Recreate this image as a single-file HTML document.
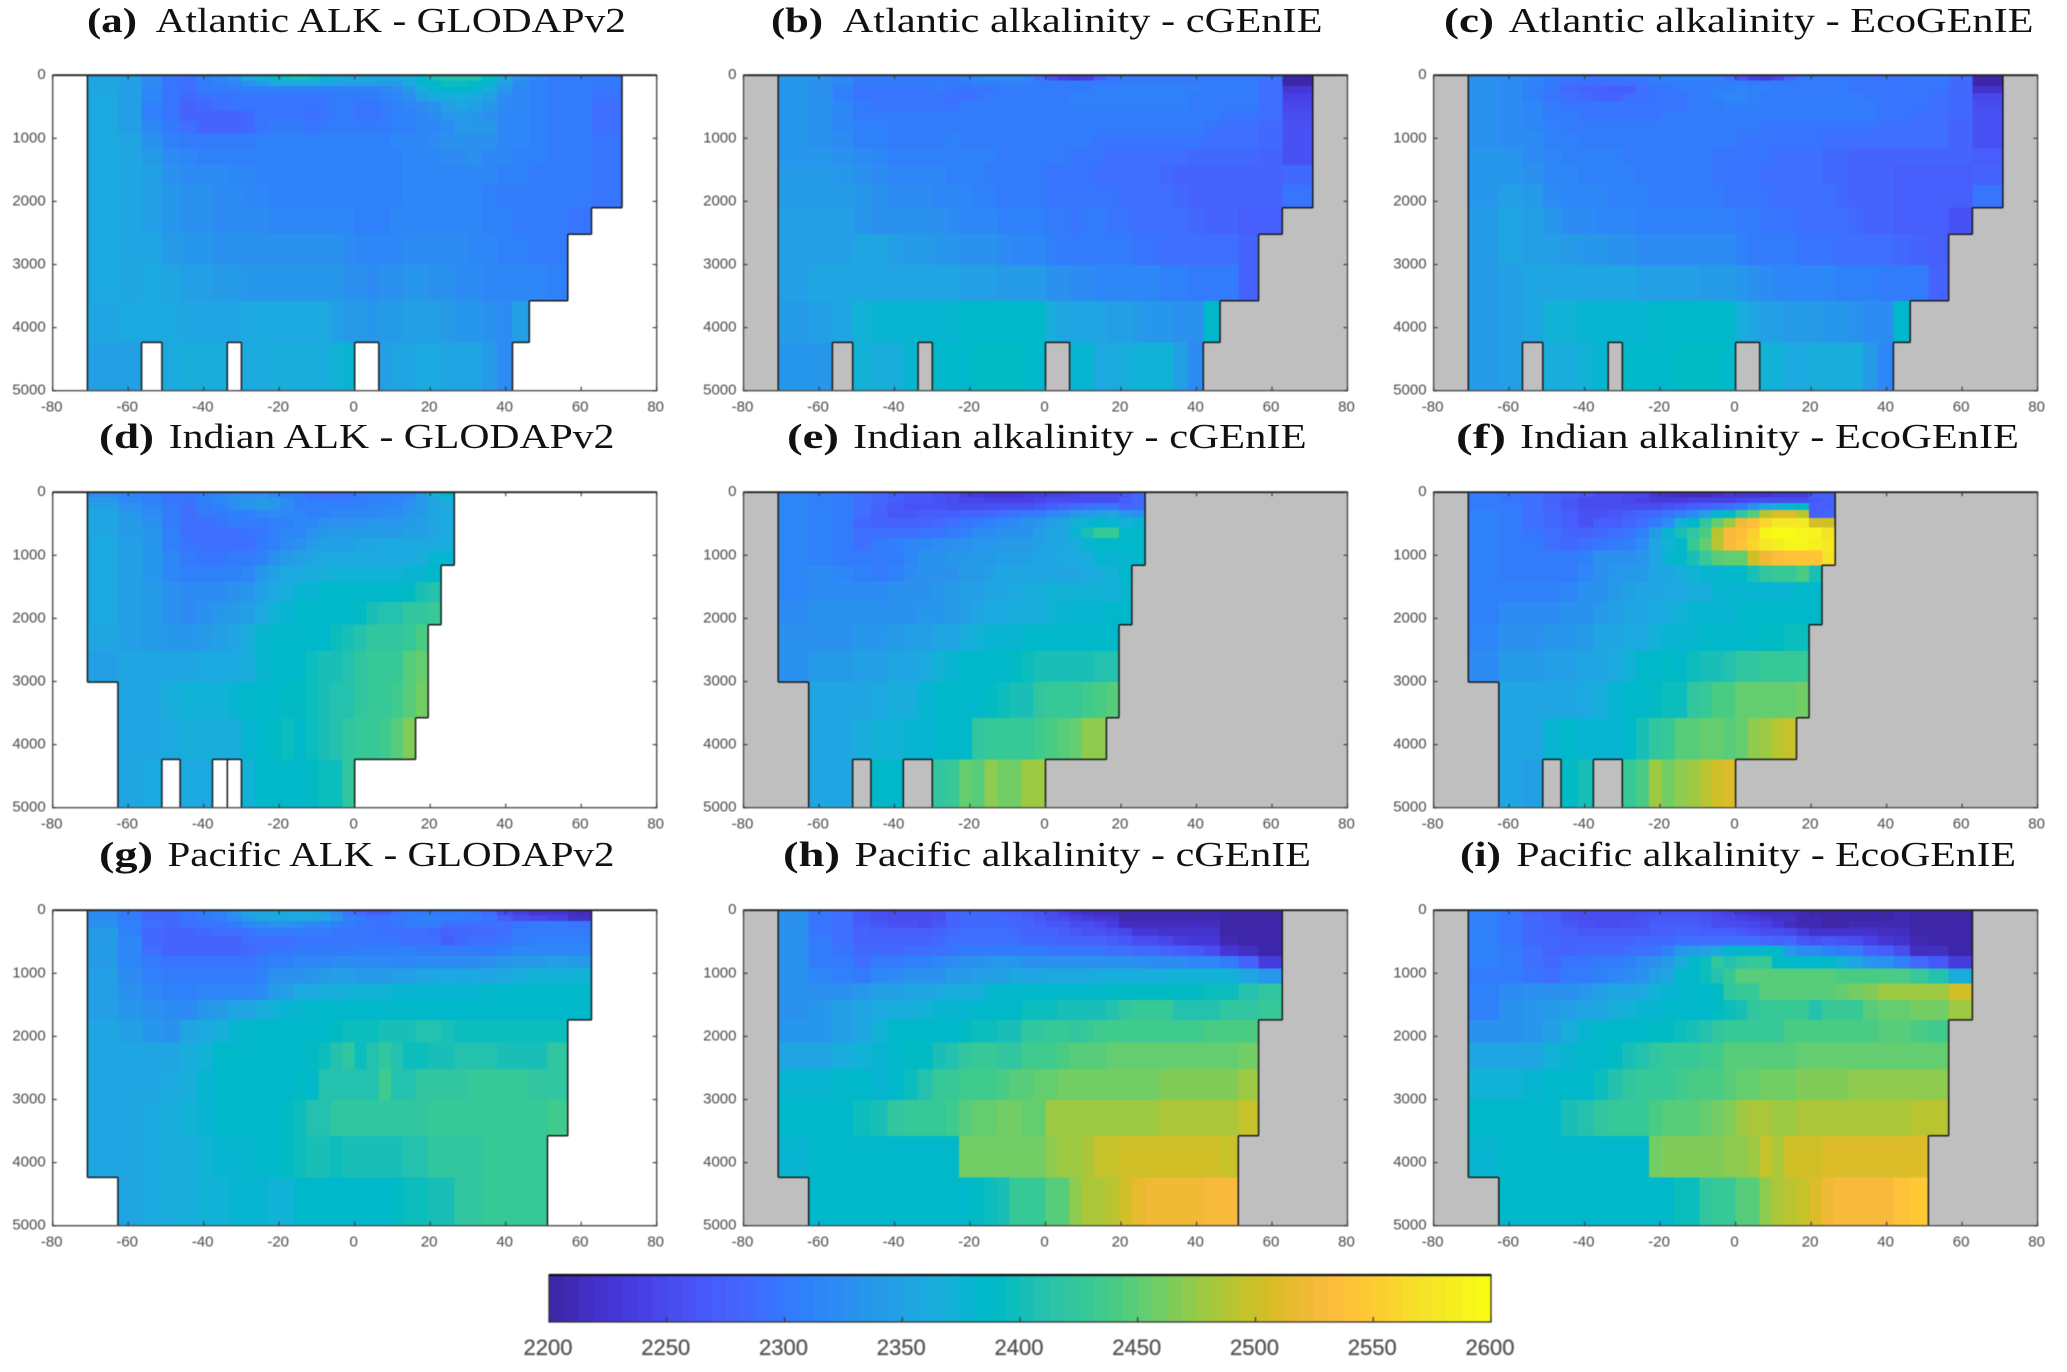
<!DOCTYPE html>
<html lang="en">
<head>
<meta charset="utf-8">
<title>Alkalinity sections: GLODAPv2, cGEnIE and EcoGEnIE</title>
<style>
html,body{margin:0;padding:0;background:#fff;width:2067px;height:1372px;overflow:hidden}
svg{display:block}
.tick-text{font-family:"Liberation Sans",sans-serif;font-size:15px;fill:#4a4a4a}
.cbar-text{font-family:"Liberation Sans",sans-serif;font-size:22px;fill:#555;stroke:#555;stroke-width:.3px}
.title-text{font-family:"Liberation Serif",serif;font-size:35px;fill:#111}
.soft{filter:blur(.6px)}
</style>
</head>
<body>
<svg id="figure" xmlns="http://www.w3.org/2000/svg" width="2067" height="1372" viewBox="0 0 2067 1372"></svg>
<script>
const latEdges=[-70.81,-62.73,-56.44,-51.06,-46.24,-41.81,-37.67,-33.75,-30,-26.39,-22.89,-19.47,-16.13,-12.84,-9.59,-6.38,-3.18,0,3.18,6.38,9.59,12.84,16.13,19.47,22.89,26.39,30,33.75,37.67,41.81,46.24,51.06,56.44,62.73,70.81];
const depthEdges=[0,81,175,284,410,558,729,927,1158,1426,1738,2100,2520,3009,3576,4235,5000];
const xTickLabels=[-80,-60,-40,-20,0,20,40,60,80];
const yTickLabels=[0,1000,2000,3000,4000,5000];
const colorbarTicks=[2200,2250,2300,2350,2400,2450,2500,2550,2600];

const atlanticFirstCol=[0,0,0,0,0,0,0,0,0,0,0,0,0,0,0,0];
const atlanticLastCol=[33,33,33,33,33,33,33,33,33,33,33,32,31,31,29,28];
const atlanticHoles=[2,7,17,18];
const indianFirstCol=[0,0,0,0,0,0,0,0,0,0,0,0,0,1,1,1];
const indianLastCol=[24,24,24,24,24,24,24,24,23,23,23,22,22,22,21,16];
const indianHoles=[3,6,7];
const pacificFirstCol=[0,0,0,0,0,0,0,0,0,0,0,0,0,0,0,1];
const pacificLastCol=[32,32,32,32,32,32,32,32,32,32,31,31,31,31,30,30];
const pacificHoles=[];

const atlanticGlodap=[
[2353,2348,2320,2297,2292,2307,2315,2330,2357,2372,2385,2395,2400,2395,2381,2372,2360,2357,2357,2353,2353,2363,2385,2400,2408,2410,2408,2390,2357,2325,2313,2303,2300,2300],
[2353,2348,2320,2297,2292,2303,2310,2315,2325,2342,2357,2360,2360,2357,2353,2353,2348,2348,2348,2342,2342,2357,2377,2387,2397,2397,2390,2381,2348,2320,2310,2303,2300,2300],
[2353,2348,2315,2297,2292,2300,2303,2303,2307,2307,2310,2310,2310,2310,2307,2310,2310,2310,2310,2313,2320,2342,2363,2377,2381,2385,2381,2367,2335,2315,2310,2303,2300,2297],
[2357,2348,2313,2297,2283,2292,2297,2297,2297,2297,2297,2297,2297,2297,2297,2300,2300,2300,2303,2307,2313,2320,2348,2357,2363,2363,2357,2348,2320,2313,2310,2303,2300,2297],
[2357,2348,2310,2297,2278,2283,2292,2297,2297,2297,2297,2297,2297,2297,2297,2300,2300,2297,2297,2300,2307,2315,2320,2325,2348,2353,2348,2335,2320,2313,2307,2303,2300,2292],
[2357,2348,2310,2297,2278,2278,2278,2278,2283,2297,2297,2297,2297,2288,2297,2300,2300,2297,2297,2300,2307,2310,2315,2320,2335,2342,2335,2325,2315,2313,2307,2303,2300,2292],
[2357,2348,2313,2300,2288,2278,2278,2278,2283,2297,2300,2300,2300,2297,2300,2303,2303,2303,2303,2303,2307,2310,2313,2315,2320,2335,2335,2335,2315,2313,2307,2303,2300,2292],
[2357,2353,2325,2310,2303,2300,2300,2300,2303,2307,2307,2307,2307,2307,2307,2307,2307,2307,2307,2310,2313,2313,2315,2320,2325,2325,2325,2325,2315,2313,2307,2303,2300,2297],
[2357,2353,2342,2320,2313,2310,2310,2307,2307,2307,2307,2307,2307,2307,2307,2307,2307,2307,2307,2310,2310,2313,2313,2315,2320,2320,2325,2315,2313,2310,2307,2303,2300,2297],
[2357,2353,2348,2325,2320,2320,2320,2315,2313,2310,2310,2310,2310,2310,2310,2310,2310,2307,2307,2307,2310,2313,2313,2315,2315,2315,2313,2313,2310,2307,2303,2300,2300,2297],
[2357,2353,2348,2335,2325,2325,2320,2320,2315,2315,2310,2310,2310,2310,2310,2310,2310,2310,2310,2310,2310,2313,2313,2313,2313,2313,2313,2310,2303,2303,2303,2300,2300,2297],
[2357,2353,2348,2335,2325,2325,2320,2320,2320,2320,2315,2315,2315,2315,2315,2315,2315,2310,2310,2310,2313,2315,2315,2315,2315,2315,2313,2310,2310,2303,2303,2300,2297],
[2357,2353,2353,2342,2335,2335,2325,2325,2325,2325,2325,2325,2325,2325,2325,2325,2320,2315,2315,2315,2315,2320,2320,2320,2320,2320,2315,2313,2310,2307,2303,2300],
[2357,2353,2357,2353,2348,2348,2342,2342,2335,2335,2335,2335,2335,2335,2335,2335,2325,2325,2320,2325,2325,2335,2335,2325,2325,2320,2320,2315,2315,2315,2313,2307],
[2353,2357,2360,2357,2353,2353,2353,2353,2357,2357,2357,2357,2357,2357,2357,2348,2342,2342,2335,2342,2342,2348,2348,2348,2342,2335,2335,2325,2320,2348],
[2348,2348,0,2357,2367,2367,2367,0,2357,2360,2363,2363,2363,2363,2367,2372,2377,0,0,2348,2353,2353,2357,2357,2353,2353,2353,2342,2320]
];
const atlanticCgenie=[
[2335,2325,2313,2300,2300,2300,2300,2303,2303,2303,2307,2313,2320,2320,2320,2313,2292,2262,2240,2235,2240,2270,2297,2303,2303,2300,2300,2303,2303,2303,2303,2303,2297,2205],
[2335,2325,2313,2300,2300,2300,2300,2300,2303,2303,2303,2307,2307,2307,2307,2307,2303,2303,2300,2300,2300,2303,2303,2303,2303,2300,2300,2303,2303,2303,2303,2303,2292,2205],
[2335,2325,2310,2297,2297,2297,2297,2297,2300,2297,2297,2297,2297,2300,2303,2303,2303,2303,2303,2303,2303,2307,2307,2307,2307,2307,2307,2307,2307,2303,2303,2303,2292,2225],
[2335,2325,2310,2297,2297,2297,2297,2297,2297,2292,2292,2297,2300,2303,2303,2303,2303,2303,2303,2307,2307,2307,2307,2307,2307,2307,2307,2307,2303,2303,2303,2300,2292,2240],
[2335,2325,2315,2300,2297,2297,2297,2297,2297,2297,2300,2300,2300,2303,2303,2303,2303,2303,2303,2307,2307,2307,2307,2307,2307,2307,2307,2307,2303,2303,2300,2300,2288,2245],
[2335,2325,2315,2303,2300,2300,2300,2300,2300,2300,2303,2303,2303,2303,2303,2303,2303,2303,2303,2303,2303,2303,2303,2303,2303,2303,2303,2303,2303,2300,2297,2297,2288,2250],
[2335,2325,2315,2307,2307,2303,2303,2303,2303,2303,2303,2303,2303,2303,2303,2300,2300,2300,2300,2303,2300,2300,2300,2300,2300,2303,2300,2300,2300,2297,2292,2292,2283,2262],
[2335,2325,2320,2310,2307,2303,2303,2303,2303,2310,2303,2303,2303,2303,2303,2303,2303,2303,2303,2300,2300,2297,2297,2297,2297,2297,2297,2297,2297,2292,2292,2288,2283,2262],
[2335,2335,2330,2320,2313,2310,2307,2307,2307,2307,2307,2307,2307,2303,2303,2303,2300,2300,2300,2297,2297,2297,2292,2292,2292,2292,2288,2288,2283,2283,2283,2283,2278,2262],
[2340,2340,2335,2325,2320,2315,2313,2313,2313,2310,2310,2307,2303,2303,2300,2300,2300,2297,2297,2297,2297,2292,2292,2288,2288,2288,2283,2278,2278,2278,2278,2278,2278,2283],
[2340,2340,2340,2335,2325,2320,2320,2320,2315,2313,2313,2310,2307,2303,2303,2300,2300,2297,2297,2297,2297,2297,2297,2292,2292,2288,2288,2283,2278,2278,2278,2278,2278,2297],
[2345,2345,2345,2335,2330,2330,2330,2325,2325,2320,2315,2313,2313,2310,2310,2307,2307,2303,2303,2297,2300,2300,2297,2297,2292,2292,2288,2288,2283,2278,2278,2270,2270],
[2345,2345,2345,2355,2350,2345,2340,2340,2335,2335,2330,2325,2325,2320,2315,2315,2315,2310,2303,2303,2303,2300,2300,2300,2297,2297,2292,2292,2292,2288,2288,2278],
[2345,2350,2350,2355,2355,2355,2350,2350,2350,2350,2345,2345,2345,2340,2340,2340,2340,2330,2325,2320,2320,2315,2315,2313,2313,2313,2310,2307,2303,2303,2303,2278],
[2340,2345,2350,2370,2375,2375,2380,2380,2380,2380,2385,2385,2385,2385,2385,2385,2385,2365,2355,2350,2355,2355,2345,2345,2340,2335,2335,2330,2325,2387],
[2335,2335,0,2370,2365,2365,2375,0,2387,2387,2387,2390,2390,2390,2390,2387,2385,0,0,2380,2380,2360,2360,2365,2370,2370,2370,2345,2320]
];
const atlanticEcogenie=[
[2330,2320,2313,2303,2297,2297,2297,2297,2300,2303,2307,2310,2315,2315,2313,2307,2292,2262,2240,2235,2245,2278,2297,2300,2300,2297,2297,2297,2297,2297,2300,2300,2288,2205],
[2330,2320,2310,2300,2292,2288,2288,2288,2292,2297,2300,2300,2303,2303,2303,2303,2307,2307,2303,2303,2300,2303,2303,2303,2303,2300,2297,2297,2297,2297,2297,2297,2283,2205],
[2330,2320,2310,2297,2283,2278,2278,2270,2270,2292,2297,2297,2300,2300,2303,2307,2310,2313,2307,2307,2303,2303,2303,2303,2303,2300,2297,2297,2297,2297,2297,2297,2283,2220],
[2330,2320,2310,2297,2288,2283,2278,2278,2288,2292,2297,2297,2297,2300,2303,2310,2313,2313,2307,2303,2303,2303,2303,2303,2303,2303,2300,2297,2297,2297,2297,2292,2283,2245],
[2330,2320,2315,2300,2297,2297,2297,2297,2297,2297,2297,2297,2297,2300,2303,2303,2307,2307,2307,2303,2303,2303,2303,2303,2303,2303,2303,2300,2297,2297,2297,2292,2283,2250],
[2330,2320,2315,2303,2300,2297,2297,2297,2297,2297,2297,2300,2300,2300,2303,2303,2303,2303,2303,2300,2300,2300,2300,2300,2300,2300,2300,2300,2297,2297,2292,2288,2283,2262],
[2330,2320,2315,2307,2303,2300,2300,2300,2300,2300,2300,2300,2300,2300,2300,2300,2300,2300,2300,2297,2297,2297,2297,2297,2297,2297,2297,2297,2292,2292,2288,2288,2278,2262],
[2330,2320,2320,2310,2307,2303,2303,2303,2303,2303,2303,2303,2303,2300,2300,2300,2300,2297,2297,2297,2297,2297,2297,2297,2292,2292,2292,2292,2292,2288,2288,2288,2278,2262],
[2335,2335,2320,2313,2307,2307,2307,2307,2303,2303,2303,2303,2300,2300,2300,2297,2297,2297,2297,2297,2292,2292,2292,2288,2283,2283,2278,2278,2278,2278,2278,2278,2278,2270],
[2335,2335,2330,2315,2313,2310,2310,2307,2307,2303,2303,2303,2300,2300,2300,2297,2297,2297,2297,2292,2292,2288,2288,2288,2283,2283,2278,2278,2278,2270,2270,2270,2270,2278],
[2335,2345,2340,2320,2315,2313,2313,2310,2310,2307,2303,2303,2300,2300,2300,2300,2297,2297,2297,2297,2292,2292,2292,2288,2288,2283,2278,2278,2278,2270,2270,2270,2270,2297],
[2340,2350,2345,2335,2320,2320,2315,2315,2313,2310,2310,2307,2307,2307,2307,2307,2307,2300,2300,2297,2297,2297,2292,2292,2288,2288,2283,2278,2278,2270,2270,2270,2262],
[2340,2350,2345,2345,2340,2335,2335,2325,2325,2320,2320,2320,2320,2320,2320,2320,2320,2310,2303,2300,2300,2300,2297,2297,2297,2292,2292,2292,2288,2283,2278,2270],
[2340,2345,2350,2355,2355,2355,2355,2350,2350,2345,2345,2345,2345,2345,2340,2340,2340,2335,2330,2320,2315,2315,2315,2313,2313,2310,2310,2307,2303,2303,2303,2278],
[2340,2345,2350,2370,2370,2375,2375,2375,2380,2380,2385,2385,2385,2385,2385,2385,2385,2365,2355,2345,2345,2340,2340,2340,2335,2335,2325,2320,2320,2387],
[2340,2345,0,2365,2365,2370,2375,0,2385,2385,2387,2387,2390,2390,2390,2390,2387,0,0,2370,2370,2360,2360,2365,2365,2365,2365,2340,2313]
];
const indianGlodap=[
[2320,2313,2307,2297,2297,2307,2313,2320,2325,2325,2313,2307,2300,2292,2292,2292,2297,2300,2307,2310,2310,2315,2335,2363,2385],
[2342,2315,2310,2297,2297,2307,2315,2325,2335,2342,2335,2320,2307,2300,2300,2303,2303,2303,2307,2310,2313,2320,2335,2353,2363],
[2348,2325,2313,2300,2292,2303,2310,2320,2335,2342,2335,2320,2310,2307,2307,2307,2307,2310,2313,2315,2315,2325,2342,2353,2357],
[2353,2335,2320,2300,2292,2300,2303,2307,2310,2315,2320,2315,2313,2310,2310,2313,2313,2315,2315,2320,2320,2335,2342,2353,2357],
[2353,2342,2325,2303,2292,2292,2297,2300,2303,2303,2307,2310,2313,2315,2325,2325,2325,2325,2335,2335,2335,2342,2348,2353,2357],
[2353,2342,2335,2307,2292,2288,2288,2292,2297,2297,2307,2313,2315,2325,2335,2342,2342,2342,2342,2342,2342,2348,2348,2353,2360],
[2357,2348,2335,2310,2297,2288,2288,2292,2292,2300,2310,2320,2325,2342,2348,2348,2348,2353,2353,2357,2357,2357,2357,2357,2363],
[2357,2348,2335,2313,2300,2297,2297,2300,2303,2310,2325,2342,2348,2353,2357,2357,2357,2360,2360,2360,2360,2360,2363,2377,2377],
[2357,2348,2335,2315,2307,2307,2310,2310,2315,2335,2348,2357,2357,2363,2367,2372,2372,2372,2372,2372,2372,2377,2381,2385],
[2357,2348,2342,2325,2320,2320,2320,2325,2335,2348,2357,2363,2377,2381,2385,2385,2385,2387,2387,2387,2387,2390,2405,2412],
[2357,2348,2342,2325,2320,2325,2335,2342,2348,2357,2372,2381,2385,2385,2387,2385,2387,2390,2405,2412,2412,2420,2420,2430],
[2353,2348,2342,2335,2335,2342,2348,2353,2363,2377,2385,2385,2385,2387,2387,2397,2405,2412,2420,2420,2420,2430,2440],
[2348,2353,2353,2353,2353,2357,2360,2360,2367,2381,2385,2387,2387,2397,2405,2405,2412,2420,2425,2425,2430,2445,2455],
[0,2353,2353,2367,2372,2372,2372,2377,2385,2385,2387,2390,2390,2397,2405,2412,2412,2420,2425,2430,2435,2445,2460],
[0,2353,2353,2357,2363,2363,2367,2367,2381,2385,2390,2397,2387,2397,2405,2412,2420,2425,2430,2435,2445,2465],
[0,2353,2357,0,2360,2360,0,0,2372,2385,2387,2387,2387,2390,2397,2397,2420]
];
const indianCgenie=[
[2315,2310,2300,2290,2285,2270,2265,2265,2260,2250,2240,2235,2230,2230,2230,2235,2240,2240,2240,2245,2250,2250,2250,2265,2285],
[2315,2310,2300,2290,2285,2270,2265,2265,2260,2255,2245,2245,2240,2240,2240,2240,2245,2250,2250,2255,2255,2255,2255,2270,2285],
[2315,2310,2300,2290,2280,2265,2260,2260,2260,2255,2255,2255,2260,2260,2260,2260,2265,2270,2280,2285,2290,2295,2295,2280,2285],
[2315,2310,2300,2290,2280,2265,2265,2270,2270,2270,2275,2280,2285,2290,2295,2300,2305,2315,2320,2335,2340,2345,2350,2335,2330],
[2315,2310,2300,2285,2280,2280,2280,2280,2285,2290,2295,2305,2310,2315,2320,2325,2335,2345,2355,2370,2381,2385,2381,2370,2381],
[2315,2310,2305,2290,2290,2290,2290,2295,2295,2305,2310,2320,2320,2325,2330,2330,2345,2350,2355,2381,2405,2425,2430,2387,2387],
[2315,2310,2305,2290,2300,2310,2315,2315,2320,2325,2330,2335,2335,2340,2340,2340,2345,2350,2355,2365,2375,2385,2387,2387,2387],
[2315,2310,2305,2300,2300,2305,2315,2325,2330,2335,2335,2340,2340,2345,2345,2345,2350,2355,2360,2360,2365,2375,2375,2375,2385],
[2315,2320,2315,2310,2305,2310,2320,2325,2330,2330,2340,2340,2345,2350,2350,2350,2355,2355,2355,2355,2360,2365,2370,2385],
[2315,2320,2320,2320,2320,2325,2330,2330,2335,2340,2345,2345,2350,2350,2360,2365,2365,2370,2370,2370,2370,2370,2370,2380],
[2320,2325,2325,2325,2325,2325,2330,2335,2335,2340,2345,2355,2360,2360,2365,2365,2365,2370,2375,2375,2375,2380,2385,2387],
[2325,2330,2330,2335,2335,2340,2345,2345,2350,2355,2365,2370,2375,2380,2380,2385,2385,2385,2387,2387,2387,2387,2387],
[2330,2340,2340,2345,2345,2350,2355,2360,2370,2380,2385,2387,2385,2385,2390,2397,2405,2405,2405,2405,2405,2412,2412],
[0,2350,2350,2355,2360,2365,2365,2380,2385,2385,2387,2387,2390,2397,2405,2405,2420,2425,2425,2430,2435,2440,2445],
[0,2350,2355,2365,2370,2370,2375,2380,2387,2387,2385,2420,2425,2425,2430,2430,2435,2440,2445,2455,2470,2470],
[0,2350,2352,0,2385,2387,0,0,2420,2430,2450,2445,2470,2460,2460,2478,2478]
];
const indianEcogenie=[
[2305,2295,2290,2280,2270,2265,2255,2255,2245,2245,2225,2220,2215,2215,2215,2220,2225,2225,2230,2230,2235,2235,2235,2270,2270],
[2305,2295,2290,2280,2265,2255,2250,2250,2245,2240,2235,2235,2235,2240,2240,2240,2240,2245,2250,2250,2255,2255,2255,2265,2270],
[2305,2300,2290,2280,2265,2255,2250,2250,2250,2255,2255,2260,2265,2270,2280,2285,2290,2300,2330,2350,2365,2375,2385,2270,2270],
[2310,2300,2290,2285,2270,2260,2260,2265,2270,2280,2285,2295,2310,2320,2345,2375,2390,2420,2445,2490,2510,2510,2490,2270,2275],
[2310,2300,2290,2285,2270,2260,2270,2270,2280,2290,2300,2320,2370,2387,2420,2450,2480,2520,2535,2560,2580,2580,2580,2500,2500],
[2310,2300,2295,2290,2280,2280,2285,2290,2295,2310,2340,2381,2405,2420,2440,2490,2525,2535,2550,2590,2600,2595,2590,2590,2570],
[2310,2305,2300,2290,2285,2290,2295,2300,2310,2320,2355,2370,2387,2425,2455,2490,2525,2540,2560,2580,2585,2590,2590,2585,2580],
[2310,2305,2300,2300,2300,2310,2325,2330,2330,2335,2350,2381,2385,2405,2430,2445,2450,2455,2500,2520,2535,2540,2540,2540,2570],
[2310,2305,2305,2305,2305,2315,2325,2335,2340,2340,2350,2350,2365,2370,2375,2375,2385,2387,2405,2420,2430,2430,2440,2405],
[2310,2310,2310,2310,2315,2325,2330,2340,2345,2350,2355,2360,2360,2365,2365,2375,2380,2380,2380,2380,2380,2380,2385,2387],
[2310,2320,2320,2320,2325,2330,2340,2345,2350,2355,2360,2365,2370,2375,2375,2375,2380,2385,2385,2385,2385,2385,2387,2387],
[2315,2330,2330,2335,2335,2340,2350,2350,2360,2360,2370,2375,2375,2380,2385,2385,2385,2387,2387,2390,2390,2397,2397],
[2320,2340,2340,2345,2345,2350,2355,2360,2370,2385,2387,2390,2387,2397,2405,2405,2412,2420,2420,2425,2425,2430,2430],
[0,2350,2350,2352,2355,2360,2365,2380,2385,2387,2390,2397,2397,2420,2430,2440,2440,2450,2450,2450,2450,2450,2460],
[0,2350,2352,2375,2385,2380,2375,2380,2387,2405,2420,2430,2445,2445,2450,2450,2445,2450,2470,2480,2490,2495],
[0,2350,2345,0,2390,2405,0,0,2425,2440,2480,2460,2470,2480,2490,2505,2510]
];
const pacificGlodap=[
[2320,2303,2283,2283,2297,2303,2310,2325,2353,2353,2357,2357,2360,2360,2348,2320,2297,2283,2270,2270,2292,2300,2303,2303,2300,2300,2297,2283,2250,2240,2230,2225,2215],
[2320,2303,2283,2283,2297,2303,2307,2320,2342,2353,2360,2360,2360,2360,2353,2335,2307,2300,2297,2297,2300,2303,2307,2307,2307,2303,2300,2297,2270,2250,2245,2240,2220],
[2325,2307,2288,2283,2292,2297,2297,2300,2313,2320,2325,2325,2320,2315,2313,2310,2300,2297,2297,2292,2297,2300,2303,2300,2292,2292,2292,2288,2288,2297,2300,2300,2297],
[2342,2310,2283,2278,2278,2283,2288,2292,2297,2300,2300,2300,2300,2300,2300,2297,2297,2297,2297,2288,2288,2292,2292,2283,2278,2283,2283,2283,2288,2300,2303,2303,2300],
[2342,2313,2283,2278,2278,2278,2278,2278,2288,2292,2292,2292,2297,2297,2297,2297,2297,2297,2297,2297,2297,2292,2292,2288,2270,2283,2292,2292,2297,2300,2307,2310,2307],
[2342,2313,2292,2278,2278,2278,2278,2278,2283,2288,2297,2297,2300,2303,2303,2303,2303,2307,2307,2307,2307,2307,2303,2300,2300,2303,2303,2303,2307,2313,2313,2313,2313],
[2342,2315,2300,2297,2297,2297,2297,2297,2297,2300,2307,2310,2313,2313,2315,2320,2320,2320,2320,2320,2315,2315,2320,2320,2320,2320,2320,2325,2335,2342,2342,2348,2342],
[2348,2320,2307,2303,2303,2303,2303,2303,2303,2310,2325,2325,2325,2335,2342,2348,2348,2342,2342,2342,2348,2348,2353,2353,2357,2353,2357,2353,2357,2367,2372,2372,2372],
[2348,2325,2313,2310,2310,2313,2313,2315,2315,2320,2342,2348,2357,2360,2363,2367,2372,2372,2372,2372,2377,2377,2377,2377,2381,2381,2381,2385,2385,2385,2385,2387,2387],
[2348,2335,2325,2320,2320,2335,2342,2353,2353,2363,2372,2377,2381,2385,2385,2385,2385,2385,2385,2385,2385,2385,2387,2387,2387,2387,2387,2387,2387,2387,2387,2387,2387],
[2350,2345,2335,2325,2353,2357,2363,2377,2385,2385,2385,2385,2385,2387,2387,2390,2397,2397,2397,2405,2405,2405,2412,2412,2405,2397,2397,2397,2397,2397,2397,2397],
[2355,2350,2350,2353,2363,2372,2385,2385,2385,2385,2385,2385,2387,2390,2397,2412,2420,2397,2412,2420,2412,2397,2397,2405,2405,2412,2412,2412,2405,2405,2405,2420],
[2355,2350,2350,2357,2367,2377,2385,2385,2387,2387,2387,2387,2390,2387,2412,2412,2412,2412,2412,2435,2412,2412,2420,2420,2420,2420,2425,2425,2425,2425,2420,2420],
[2355,2350,2357,2367,2372,2377,2385,2385,2387,2387,2387,2390,2397,2412,2412,2420,2420,2420,2420,2420,2420,2420,2420,2425,2425,2425,2425,2425,2425,2425,2430,2435],
[2355,2355,2360,2363,2367,2372,2377,2381,2381,2385,2387,2390,2397,2405,2405,2397,2405,2405,2405,2405,2405,2412,2412,2420,2420,2420,2420,2425,2425,2425,2425],
[0,2355,2360,2363,2367,2372,2372,2377,2377,2377,2372,2372,2385,2385,2385,2385,2385,2385,2385,2387,2390,2397,2397,2405,2405,2420,2420,2425,2425,2425,2425]
];
const pacificCgenie=[
[2325,2295,2290,2265,2260,2255,2255,2255,2260,2275,2285,2285,2285,2280,2270,2265,2260,2250,2240,2225,2220,2215,2215,2210,2210,2210,2210,2210,2210,2210,2200,2200,2200],
[2325,2295,2290,2265,2260,2255,2255,2255,2260,2275,2285,2285,2285,2285,2275,2270,2265,2255,2255,2240,2235,2230,2225,2210,2210,2210,2210,2210,2210,2210,2200,2200,2200],
[2325,2295,2290,2270,2265,2260,2260,2255,2265,2280,2285,2285,2285,2285,2280,2275,2270,2265,2265,2255,2250,2245,2235,2215,2215,2215,2215,2215,2215,2215,2205,2200,2200],
[2325,2295,2290,2275,2270,2270,2270,2270,2275,2285,2290,2290,2290,2290,2285,2280,2275,2275,2270,2265,2260,2260,2250,2245,2230,2225,2220,2220,2220,2220,2205,2200,2200],
[2325,2300,2290,2280,2280,2280,2280,2280,2285,2290,2290,2290,2290,2290,2290,2285,2285,2285,2280,2280,2280,2275,2270,2265,2250,2250,2245,2235,2230,2225,2210,2205,2200],
[2325,2300,2295,2285,2285,2285,2290,2290,2290,2295,2300,2305,2305,2305,2305,2300,2300,2295,2295,2295,2295,2295,2290,2290,2285,2285,2280,2270,2265,2250,2225,2215,2205],
[2325,2305,2300,2290,2300,2305,2310,2310,2315,2320,2325,2330,2335,2335,2335,2330,2330,2330,2330,2330,2325,2325,2325,2325,2325,2320,2320,2320,2315,2315,2300,2275,2235],
[2325,2315,2310,2305,2315,2320,2330,2330,2330,2340,2340,2345,2345,2345,2360,2350,2350,2360,2360,2360,2360,2365,2365,2365,2365,2365,2365,2370,2370,2370,2370,2350,2335],
[2325,2325,2330,2335,2345,2345,2350,2355,2360,2365,2365,2365,2380,2385,2385,2385,2385,2387,2387,2385,2385,2385,2390,2390,2390,2390,2390,2390,2390,2397,2397,2412,2420],
[2325,2335,2345,2350,2360,2365,2365,2370,2375,2380,2380,2385,2385,2385,2387,2397,2397,2397,2405,2405,2405,2405,2412,2420,2425,2425,2425,2412,2412,2412,2420,2420,2425],
[2335,2335,2345,2355,2370,2385,2385,2385,2387,2387,2390,2397,2397,2405,2405,2420,2420,2425,2425,2420,2428,2432,2432,2432,2432,2432,2436,2436,2436,2440,2440,2440],
[2355,2355,2365,2370,2375,2385,2390,2390,2405,2412,2420,2425,2425,2420,2420,2432,2436,2436,2440,2445,2445,2445,2450,2450,2450,2450,2450,2455,2455,2455,2455,2460],
[2375,2375,2385,2385,2380,2385,2397,2412,2425,2430,2432,2436,2436,2440,2445,2445,2450,2452,2458,2462,2462,2462,2462,2462,2462,2462,2466,2466,2466,2466,2466,2476],
[2385,2385,2387,2397,2405,2420,2425,2430,2430,2432,2445,2450,2455,2458,2458,2455,2455,2480,2480,2480,2480,2480,2480,2480,2480,2480,2484,2484,2484,2484,2484,2495],
[2375,2385,2385,2387,2387,2387,2387,2387,2387,2387,2460,2462,2460,2462,2462,2462,2460,2472,2476,2480,2485,2495,2495,2500,2500,2505,2505,2505,2505,2500,2497],
[0,2385,2387,2387,2387,2387,2387,2387,2387,2387,2387,2390,2397,2405,2425,2425,2430,2445,2445,2470,2485,2485,2490,2505,2515,2520,2522,2522,2522,2527,2527]
];
const pacificEcogenie=[
[2310,2295,2280,2270,2260,2255,2250,2250,2250,2255,2260,2260,2260,2260,2250,2245,2240,2225,2220,2215,2215,2215,2210,2205,2200,2200,2205,2205,2205,2210,2200,2200,2200],
[2310,2295,2285,2270,2260,2255,2250,2250,2250,2260,2265,2265,2265,2265,2260,2250,2245,2240,2235,2230,2220,2220,2210,2210,2205,2205,2205,2205,2205,2210,2200,2200,2200],
[2310,2295,2285,2275,2265,2260,2255,2255,2260,2260,2270,2270,2270,2270,2265,2255,2255,2250,2245,2240,2230,2215,2210,2210,2205,2205,2210,2210,2210,2210,2200,2200,2200],
[2310,2295,2285,2280,2270,2265,2265,2265,2265,2265,2270,2270,2275,2275,2270,2270,2270,2265,2260,2255,2250,2245,2235,2220,2220,2220,2220,2220,2215,2215,2200,2200,2200],
[2310,2295,2285,2285,2275,2275,2275,2280,2280,2285,2285,2285,2290,2290,2290,2290,2290,2290,2290,2285,2280,2285,2265,2260,2265,2260,2250,2240,2225,2220,2210,2205,2200],
[2310,2300,2290,2280,2280,2285,2285,2285,2290,2290,2295,2310,2335,2340,2345,2360,2381,2387,2380,2387,2387,2335,2320,2320,2310,2305,2300,2280,2270,2255,2215,2215,2200],
[2310,2300,2290,2285,2295,2295,2300,2300,2310,2320,2325,2340,2360,2387,2397,2420,2412,2420,2430,2430,2390,2385,2385,2387,2385,2370,2350,2335,2325,2310,2285,2265,2235],
[2305,2300,2295,2290,2300,2300,2310,2315,2320,2325,2345,2355,2385,2387,2397,2412,2425,2445,2445,2445,2445,2445,2445,2445,2445,2440,2440,2440,2440,2440,2430,2412,2365],
[2310,2320,2325,2325,2330,2335,2345,2350,2355,2360,2370,2375,2380,2385,2385,2390,2420,2425,2430,2445,2445,2445,2445,2445,2445,2455,2460,2465,2478,2478,2478,2478,2505],
[2310,2330,2335,2340,2345,2350,2355,2365,2370,2375,2380,2385,2385,2385,2387,2390,2397,2405,2420,2425,2430,2430,2430,2412,2425,2430,2430,2445,2450,2450,2458,2458,2475],
[2325,2330,2335,2345,2365,2375,2385,2385,2385,2387,2390,2390,2397,2405,2412,2420,2425,2425,2430,2430,2430,2440,2440,2440,2440,2440,2440,2440,2444,2444,2440,2436],
[2350,2355,2355,2370,2375,2385,2387,2390,2405,2412,2420,2425,2425,2430,2436,2436,2444,2444,2444,2448,2448,2448,2452,2452,2452,2452,2452,2456,2456,2456,2456,2456],
[2370,2370,2375,2385,2385,2385,2397,2412,2420,2425,2430,2430,2433,2440,2440,2440,2444,2456,2456,2462,2462,2462,2466,2466,2466,2466,2470,2470,2470,2470,2470,2470],
[2382,2382,2385,2387,2405,2412,2420,2425,2425,2430,2440,2445,2445,2445,2452,2462,2466,2478,2484,2484,2476,2480,2484,2484,2484,2484,2484,2484,2484,2484,2488,2488],
[2380,2385,2387,2387,2387,2387,2387,2387,2387,2387,2462,2466,2466,2466,2466,2466,2470,2470,2476,2495,2482,2500,2505,2505,2510,2510,2510,2510,2510,2510,2510],
[0,2385,2385,2387,2387,2387,2387,2387,2387,2387,2387,2387,2395,2397,2420,2425,2430,2445,2445,2470,2485,2490,2495,2510,2522,2526,2530,2530,2530,2542,2548]
];

const parula=[[.2422,.1504,.6603],[.2504,.165,.7076],[.2578,.1818,.7511],[.2647,.1978,.7952],[.2706,.2147,.8364],[.2751,.2342,.871],[.2783,.2559,.8991],[.2803,.2782,.9221],[.2813,.3006,.9414],[.281,.3228,.9579],[.2795,.3447,.9717],[.276,.3667,.9829],[.2699,.3892,.9906],[.2602,.4123,.9952],[.244,.4358,.9988],[.2206,.4603,.9973],[.1963,.4847,.9892],[.1834,.5074,.9798],[.1786,.5289,.9682],[.1764,.5499,.952],[.1687,.5703,.9359],[.154,.5902,.9218],[.146,.6091,.9079],[.138,.6276,.8973],[.1248,.6459,.8883],[.1113,.6635,.8763],[.0952,.6798,.8598],[.0689,.6948,.8394],[.0297,.7082,.8163],[.0036,.7203,.7917],[.0067,.7312,.766],[.0433,.7411,.7394],[.0964,.75,.712],[.1408,.7584,.6842],[.1717,.767,.6554],[.1938,.7758,.6251],[.2161,.7843,.5923],[.247,.7918,.5567],[.2906,.7973,.5188],[.3406,.8008,.4789],[.3909,.8029,.4354],[.4456,.8024,.3909],[.5044,.7993,.348],[.5616,.7942,.3045],[.6174,.7876,.2612],[.672,.7793,.2227],[.7242,.7698,.191],[.7738,.7598,.1646],[.8203,.7498,.1535],[.8634,.7406,.1596],[.9035,.733,.1774],[.9393,.7288,.21],[.9728,.7298,.2394],[.9956,.7434,.2371],[.997,.7659,.2199],[.9952,.7893,.2028],[.9892,.8136,.1885],[.9786,.8386,.1766],[.9676,.8639,.1643],[.961,.889,.1537],[.9597,.9135,.1423],[.9628,.9373,.1265],[.9691,.9606,.1064],[.9769,.9839,.0805]];

const NS='http://www.w3.org/2000/svg';
const figure=document.getElementById('figure');
const colMin=2200,colMax=2600;
function colorOf(v){
  const i=Math.max(0,Math.min(63,Math.floor((v-colMin)/(colMax-colMin)*64)));
  const c=parula[i];
  return 'rgb('+Math.round(c[0]*255)+','+Math.round(c[1]*255)+','+Math.round(c[2]*255)+')';
}
function make(tag,attrs,parent){
  const el=document.createElementNS(NS,tag);
  for(const k in attrs){el.setAttribute(k,attrs[k]);}
  parent.appendChild(el);
  return el;
}

const panelLefts=[52.7,743.5,1433.6];
const panelTops=[75.2,492.2,910.2];
const panelW=604,panelH=315.5;

const panels=[
 {id:'a',col:0,row:0,title:'Atlantic ALK - GLODAPv2',bx:[87,137],tx:[155.6,626],base:32,values:atlanticGlodap,first:atlanticFirstCol,last:atlanticLastCol,holes:atlanticHoles,land:'#ffffff',dividers:[]},
 {id:'b',col:1,row:0,title:'Atlantic alkalinity - cGEnIE',bx:[771,823],tx:[842.6,1322.6],base:32,values:atlanticCgenie,first:atlanticFirstCol,last:atlanticLastCol,holes:atlanticHoles,land:'#bfbfbf',dividers:[]},
 {id:'c',col:2,row:0,title:'Atlantic alkalinity - EcoGEnIE',bx:[1444,1494],tx:[1508.5,2033.5],base:32,values:atlanticEcogenie,first:atlanticFirstCol,last:atlanticLastCol,holes:atlanticHoles,land:'#bfbfbf',dividers:[]},
 {id:'d',col:0,row:1,title:'Indian ALK - GLODAPv2',bx:[99,154],tx:[168.8,614.5],base:448,values:indianGlodap,first:indianFirstCol,last:indianLastCol,holes:indianHoles,land:'#ffffff',dividers:[7]},
 {id:'e',col:1,row:1,title:'Indian alkalinity - cGEnIE',bx:[787,839],tx:[853,1306.7],base:448,values:indianCgenie,first:indianFirstCol,last:indianLastCol,holes:indianHoles,land:'#bfbfbf',dividers:[]},
 {id:'f',col:2,row:1,title:'Indian alkalinity - EcoGEnIE',bx:[1456,1506],tx:[1520,2019],base:448,values:indianEcogenie,first:indianFirstCol,last:indianLastCol,holes:indianHoles,land:'#bfbfbf',dividers:[]},
 {id:'g',col:0,row:2,title:'Pacific ALK - GLODAPv2',bx:[99,153],tx:[167.5,614.5],base:866,values:pacificGlodap,first:pacificFirstCol,last:pacificLastCol,holes:pacificHoles,land:'#ffffff',dividers:[]},
 {id:'h',col:1,row:2,title:'Pacific alkalinity - cGEnIE',bx:[783,840],tx:[854.5,1311],base:866,values:pacificCgenie,first:pacificFirstCol,last:pacificLastCol,holes:pacificHoles,land:'#bfbfbf',dividers:[]},
 {id:'i',col:2,row:2,title:'Pacific alkalinity - EcoGEnIE',bx:[1460,1501],tx:[1516.4,2016],base:866,values:pacificEcogenie,first:pacificFirstCol,last:pacificLastCol,holes:pacificHoles,land:'#bfbfbf',dividers:[]}
];

panels.forEach(function(p){
  const left=panelLefts[p.col],top=panelTops[p.row];
  const xScale=function(lat){return left+(lat+80)/160*panelW;};
  const yScale=function(d){return top+d/5000*panelH;};

  const letter=make('text',{x:p.bx[0],y:p.base,textLength:p.bx[1]-p.bx[0],lengthAdjust:'spacingAndGlyphs','class':'title-text','font-weight':'bold'},figure);
  
  
  letter.textContent='('+p.id+')';
  const title=make('text',{x:p.tx[0],y:p.base,textLength:p.tx[1]-p.tx[0],lengthAdjust:'spacingAndGlyphs','class':'title-text'},figure);
  
  
  title.textContent=p.title;

  const g=make('g',{'class':'soft'},figure);
  
  

  const bg=make('rect',{x:left,y:top,width:panelW,height:panelH,fill:p.land},g);
  
  

  function isOcean(r,c){
    if(r<0||r>15||c<0||c>33)return false;
    if(c<p.first[r]||c>p.last[r])return false;
    if(r===15&&p.holes.indexOf(c)>=0)return false;
    return true;
  }
  let outline='';
  for(let r=0;r<16;r++){
    for(let c=0;c<34;c++){
      if(!isOcean(r,c))continue;
      const row=p.values[r];
      const v=(row[c]!==undefined&&row[c]>0)?row[c]:row[row.length-1];
      const xa=xScale(latEdges[c]),xb=xScale(latEdges[c+1]),ya=yScale(depthEdges[r]),yb=yScale(depthEdges[r+1]);
      const cell=make('rect',{x:xa.toFixed(2),y:ya.toFixed(2),width:(xb-xa+.4).toFixed(2),height:(yb-ya+.4).toFixed(2),fill:colorOf(v),'shape-rendering':'crispEdges'},g);
      
      
      if(c>0&&!isOcean(r,c-1)||c===0)outline+='M'+xa.toFixed(1)+' '+ya.toFixed(1)+'V'+yb.toFixed(1);
      if(!isOcean(r,c+1))outline+='M'+xb.toFixed(1)+' '+ya.toFixed(1)+'V'+yb.toFixed(1);
      if(r>0&&!isOcean(r-1,c))outline+='M'+xa.toFixed(1)+' '+ya.toFixed(1)+'H'+xb.toFixed(1);
      if(r<15&&!isOcean(r+1,c))outline+='M'+xa.toFixed(1)+' '+yb.toFixed(1)+'H'+xb.toFixed(1);
    }
  }
  p.dividers.forEach(function(c){
    outline+='M'+xScale(latEdges[c]).toFixed(1)+' '+yScale(depthEdges[15]).toFixed(1)+'V'+yScale(depthEdges[16]).toFixed(1);
  });
  const coast=make('path',{d:outline,fill:'none',stroke:'#1a1a1a','stroke-width':1.5},g);
  
  

  const box=make('rect',{x:left,y:top,width:panelW,height:panelH,fill:'none',stroke:'#444','stroke-width':1.3},g);
  
  
  const topLine=make('line',{x1:left,x2:left+panelW,y1:top,y2:top,stroke:'#222','stroke-width':1.8},g);
  
  

  xTickLabels.forEach(function(t){
    const x=xScale(t);
    const tickTop=make('line',{x1:x,x2:x,y1:top,y2:top+4,stroke:'#333','stroke-width':1.1},g);
    
    
    const tickBottom=make('line',{x1:x,x2:x,y1:top+panelH,y2:top+panelH-4,stroke:'#333','stroke-width':1.1},g);
    
    
    const label=make('text',{x:x-1,y:top+panelH+21,'text-anchor':'middle','class':'tick-text'},g);
    
    
    label.textContent=String(t);
  });
  yTickLabels.forEach(function(t){
    const y=yScale(t);
    const tickLeft=make('line',{x1:left,x2:left+4,y1:y,y2:y,stroke:'#333','stroke-width':1.1},g);
    
    
    const tickRight=make('line',{x1:left+panelW,x2:left+panelW-4,y1:y,y2:y,stroke:'#333','stroke-width':1.1},g);
    
    
    const label=make('text',{x:left-7,y:y+4,'text-anchor':'end','class':'tick-text'},g);
    
    
    label.textContent=String(t);
  });
});

const cbLeft=549,cbRight=1491,cbTop=1275,cbBottom=1322;
const cbScale=function(v){return cbLeft+(v-colMin)/(colMax-colMin)*(cbRight-cbLeft);};
const cb=make('g',{'class':'soft'},figure);


parula.forEach(function(c,i){
  const v0=colMin+i/64*(colMax-colMin),v1=colMin+(i+1)/64*(colMax-colMin);
  const swatch=make('rect',{x:cbScale(v0).toFixed(2),y:cbTop,width:(cbScale(v1)-cbScale(v0)+.4).toFixed(2),height:cbBottom-cbTop,fill:colorOf((v0+v1)/2),'shape-rendering':'crispEdges'},cb);
  
  
});
const cbBox=make('rect',{x:cbLeft,y:cbTop,width:cbRight-cbLeft,height:cbBottom-cbTop,fill:'none',stroke:'#333','stroke-width':1.3},cb);


const cbTopLine=make('line',{x1:cbLeft,x2:cbRight,y1:cbTop,y2:cbTop,stroke:'#111','stroke-width':2.2},cb);


colorbarTicks.forEach(function(t){
  const x=cbScale(t);
  const tick=make('line',{x1:x,x2:x,y1:cbBottom,y2:cbBottom-5,stroke:'#333','stroke-width':1.2},cb);
  
  
  const label=make('text',{x:x-1,y:1355,'text-anchor':'middle','class':'cbar-text'},cb);
  
  
  label.textContent=String(t);
});
</script>
</body>
</html>
